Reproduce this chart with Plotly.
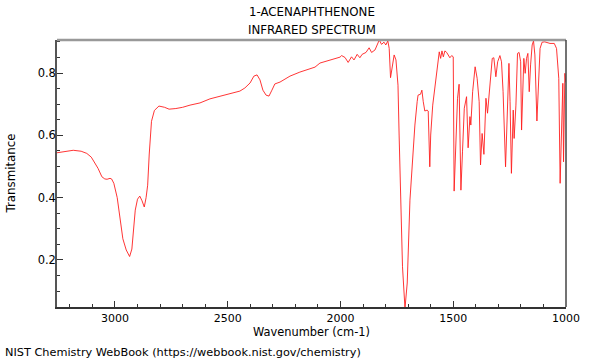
import plotly.graph_objects as go

wavenumber = [
    3257, 3220, 3185, 3150, 3125, 3105, 3090, 3075, 3058, 3045, 3035, 3022, 3015, 3005,
    2990, 2978, 2965, 2950, 2935, 2925, 2918, 2910, 2900, 2890, 2880, 2870, 2862, 2855,
    2848, 2838, 2825, 2805, 2780, 2760, 2730, 2700, 2667, 2623, 2579, 2534, 2490, 2446,
    2424, 2401, 2384, 2370, 2357, 2344, 2330, 2317, 2304, 2291, 2268, 2224, 2180, 2135,
    2113, 2091, 2047, 2020, 2002,
    1995, 1980, 1966, 1951, 1940, 1926, 1914, 1904, 1887, 1873, 1862, 1847, 1828, 1818,
    1807, 1799, 1790, 1784, 1778, 1772, 1762, 1754, 1745, 1740, 1732, 1725, 1714, 1704,
    1692, 1680, 1670, 1660, 1656, 1645, 1639, 1633, 1626, 1616, 1611, 1604, 1600, 1591,
    1581, 1571, 1562, 1556, 1550, 1544, 1537, 1529, 1521, 1515, 1507, 1500, 1496, 1488,
    1481, 1474, 1466, 1459, 1451, 1441, 1434, 1426, 1422, 1414, 1403, 1394, 1385, 1379,
    1372, 1364, 1355, 1348, 1337, 1327, 1320, 1311, 1303, 1293, 1286, 1279, 1268, 1261,
    1253, 1248, 1242, 1234, 1230, 1222, 1215, 1208, 1201, 1197, 1193, 1187, 1181, 1175,
    1169, 1163, 1157, 1150, 1144, 1138, 1129, 1122, 1115, 1106, 1094, 1071, 1052, 1042,
    1032, 1026, 1020, 1014, 1011, 1005, 1001,
]
transmittance = [
    0.544, 0.549, 0.552, 0.549, 0.542, 0.530, 0.514, 0.494, 0.467, 0.460, 0.459, 0.462, 0.460, 0.446,
    0.400, 0.330, 0.268, 0.232, 0.211, 0.235, 0.300, 0.360, 0.395, 0.405, 0.390, 0.370, 0.400, 0.440,
    0.540, 0.645, 0.680, 0.694, 0.690, 0.684, 0.686, 0.690, 0.697, 0.704, 0.717, 0.726, 0.733, 0.742,
    0.752, 0.768, 0.790, 0.794, 0.778, 0.745, 0.729, 0.726, 0.745, 0.765, 0.771, 0.790, 0.803, 0.813,
    0.819, 0.832, 0.842, 0.846, 0.851,
    0.856, 0.850, 0.834, 0.852, 0.842, 0.860, 0.849, 0.860, 0.866, 0.881, 0.866, 0.874, 0.906, 0.892,
    0.899, 0.890, 0.903, 0.879, 0.785, 0.815, 0.858, 0.842, 0.761, 0.601, 0.392, 0.178, 0.045, 0.126,
    0.392, 0.547, 0.633, 0.708, 0.729, 0.732, 0.745, 0.708, 0.678, 0.681, 0.678, 0.499, 0.601, 0.697,
    0.751, 0.804, 0.868, 0.847, 0.871, 0.852, 0.871, 0.866, 0.858, 0.849, 0.856, 0.852, 0.421, 0.601,
    0.719, 0.764, 0.424, 0.547, 0.687, 0.724, 0.560, 0.660, 0.633, 0.740, 0.820, 0.783, 0.708, 0.505,
    0.606, 0.539, 0.719, 0.671, 0.772, 0.847, 0.849, 0.788, 0.836, 0.856, 0.836, 0.740, 0.499, 0.655,
    0.831, 0.708, 0.478, 0.681, 0.590, 0.697, 0.863, 0.866, 0.836, 0.617, 0.708, 0.847, 0.799, 0.847,
    0.863, 0.740, 0.826, 0.890, 0.903, 0.858, 0.646, 0.783, 0.879, 0.899, 0.900, 0.895, 0.895, 0.879,
    0.783, 0.446, 0.601, 0.767, 0.515, 0.799, 0.770,
]

title_lines = ["1-ACENAPHTHENONE", "INFRARED SPECTRUM"]
x_ticks = [3000, 2500, 2000, 1500, 1000]
y_ticks = [0.2, 0.4, 0.6, 0.8]

FONT = "DejaVu Sans"

fig = go.Figure()
fig.add_trace(go.Scatter(x=wavenumber, y=transmittance, mode="lines",
                         line=dict(color="rgb(255,30,30)", width=0.9), hoverinfo="skip"))

fig.update_layout(
    width=600, height=360,
    margin=dict(l=57, r=34, t=40, b=53),
    plot_bgcolor="white", paper_bgcolor="white",
    showlegend=False,
    font=dict(family=FONT, size=12, color="black"),
)
fig.update_xaxes(
    range=[3257, 1000], tickmode="array", tickvals=x_ticks,
    ticktext=[str(v) for v in x_ticks],
    ticks="inside", ticklen=6, tickcolor="#333", tickwidth=1,
    minor=dict(dtick=100, tick0=1000, ticks="inside", ticklen=3, tickcolor="#333"),
    showline=True, linecolor="#333", linewidth=1.5,
    showgrid=False, zeroline=False, tickfont=dict(size=11),
)
fig.update_yaxes(
    range=[0.049, 0.906], tickmode="array", tickvals=y_ticks,
    ticktext=[f"{v:.1f}" for v in y_ticks],
    ticks="inside", ticklen=6, tickcolor="#333", tickwidth=1,
    minor=dict(dtick=0.05, tick0=0, ticks="inside", ticklen=3, tickcolor="#333"),
    showline=True, linecolor="#555", linewidth=1.5,
    showgrid=False, zeroline=False, tickfont=dict(size=11.5),
    ticklabelstandoff=-3,
)

# frame: top (light gray) and right edges
fig.add_shape(type="line", xref="paper", yref="paper", x0=0, x1=1, y0=1, y1=1,
              line=dict(color="#999999", width=2.5))
fig.add_shape(type="line", xref="paper", yref="paper", x0=1, x1=1, y0=0, y1=1,
              line=dict(color="#444444", width=1.5))

ann = [
    dict(text=title_lines[0], x=0.5, y=1 + 28 / 267, xanchor="center", yanchor="middle", size=11.8),
    dict(text=title_lines[1], x=0.5, y=1 + 10 / 267, xanchor="center", yanchor="middle", size=11.8),
    dict(text="Wavenumber (cm-1)", x=0.5, y=-25 / 267, xanchor="center", yanchor="middle", size=11.4),
    dict(text="Transmitance", x=-47 / 509, y=0.5, xanchor="center", yanchor="middle", textangle=-90, size=11.8),
    dict(text="NIST Chemistry WebBook (https://webbook.nist.gov/chemistry)",
         x=-54 / 509, y=-45 / 267, xanchor="left", yanchor="middle", size=11.3),
]
for a in ann:
    size = a.pop("size")
    fig.add_annotation(xref="paper", yref="paper", showarrow=False,
                       font=dict(family=FONT, size=size, color="black"), **a)

fig.write_html("out.html", config={"displayModeBar": False},
               post_script="document.body.style.margin='0';")
